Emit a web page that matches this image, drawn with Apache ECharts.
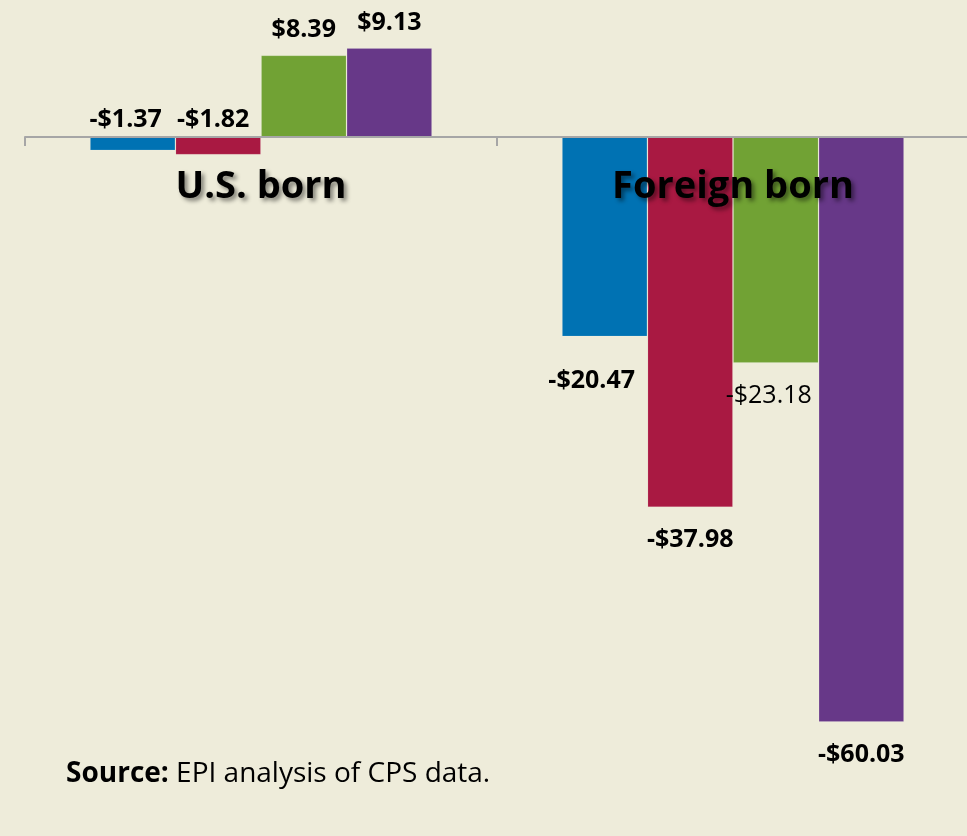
<!DOCTYPE html>
<html>
<head>
<meta charset="utf-8">
<script src="https://cdn.jsdelivr.net/npm/echarts@6/dist/echarts.min.js"></script>
<style>
  html, body { margin: 0; padding: 0; background: #eeecda; }
  #chart { width: 967px; height: 836px; }
</style>
</head>
<body>
<div id="chart"></div>
<script>
// categories and the four bar series
const categories = ['U.S. born', 'Foreign born'];
const seriesNames = ['Series 1', 'Series 2', 'Series 3', 'Series 4'];
const series1 = [-1.37, -20.47];
const series2 = [-1.82, -37.98];
const series3 = [8.39, -23.18];
const series4 = [9.13, -60.03];
const sourceNote = 'EPI analysis of CPS data.';

const colors = ['#0072b3', '#a91942', '#71a234', '#673888'];
const allValues = [series1, series2, series3, series4];

// label tweaks per [series][category]
const labelTweaks = {
  '0-0': { offset: [-7, 0] },
  '1-0': { offset: [-5, 0] },
  '0-1': { offset: [-13, 12] },
  '2-1': { offset: [-7, 0], fontWeight: 'normal' }
};

function fmt(v) {
  return (v < 0 ? '-$' : '$') + Math.abs(v).toFixed(2);
}

const chart = echarts.init(document.getElementById('chart'));

const option = {
  backgroundColor: '#eeecda',
  animation: false,
  grid: [
    // bars
    { left: 25, top: 0.6, width: 944, height: 818.6, outerBoundsMode: 'none', containLabel: false },
    // visible axis, bottom edge sits on the zero line
    { left: 25, top: 0, width: 944, height: 137, outerBoundsMode: 'none', containLabel: false }
  ],
  xAxis: [
    { type: 'category', data: categories, gridIndex: 0, show: false },
    {
      type: 'category',
      data: categories,
      gridIndex: 1,
      position: 'bottom',
      boundaryGap: true,
      axisLine: { show: true, onZero: false, lineStyle: { color: '#a6a6a6', width: 2 } },
      axisTick: {
        show: true,
        interval: 0,
        alignWithLabel: false,
        inside: false,
        length: 9,
        lineStyle: { color: '#a6a6a6', width: 2 }
      },
      axisLabel: {
        margin: 50,
        interval: 0,
        verticalAlign: 'middle',
        fontFamily: 'Open Sans',
        fontWeight: 'bold',
        fontSize: 38,
        color: '#000',
        textShadowColor: 'rgba(0,0,0,0.45)',
        textShadowBlur: 4,
        textShadowOffsetX: 3,
        textShadowOffsetY: 3
      },
      z: 10
    }
  ],
  yAxis: [
    { type: 'value', gridIndex: 0, min: -70, max: 14, show: false, splitLine: { show: false } },
    { type: 'value', gridIndex: 1, min: 0, max: 1, show: false, splitLine: { show: false } }
  ],
  series: allValues.map((vals, si) => ({
    name: seriesNames[si],
    type: 'bar',
    xAxisIndex: 0,
    yAxisIndex: 0,
    barGap: '0%',
    barCategoryGap: '27.5%',
    itemStyle: { color: colors[si], borderColor: 'rgba(255,255,255,0.12)', borderWidth: 1 },
    data: vals.map((v, ci) => {
      const below = v < 0 && ci === 1;
      const tweak = labelTweaks[si + '-' + ci] || {};
      return {
        value: v,
        label: {
          show: true,
          position: below ? 'bottom' : 'top',
          distance: below ? 20 : (v < 0 ? 5 : 13),
          offset: tweak.offset || [0, 0],
          formatter: fmt(v),
          fontFamily: 'Open Sans',
          fontWeight: tweak.fontWeight || 'bold',
          fontSize: 25,
          color: '#000'
        }
      };
    })
  })),
  graphic: [{
    type: 'text',
    left: 66,
    top: 760,
    style: {
      text: '{b|Source:} ' + sourceNote,
      fontFamily: 'Open Sans',
      fontSize: 28,
      fill: '#000',
      rich: {
        b: { fontFamily: 'Open Sans', fontSize: 28, fontWeight: 'bold', fill: '#000' }
      }
    }
  }]
};

chart.setOption(option);
</script>
</body>
</html>
